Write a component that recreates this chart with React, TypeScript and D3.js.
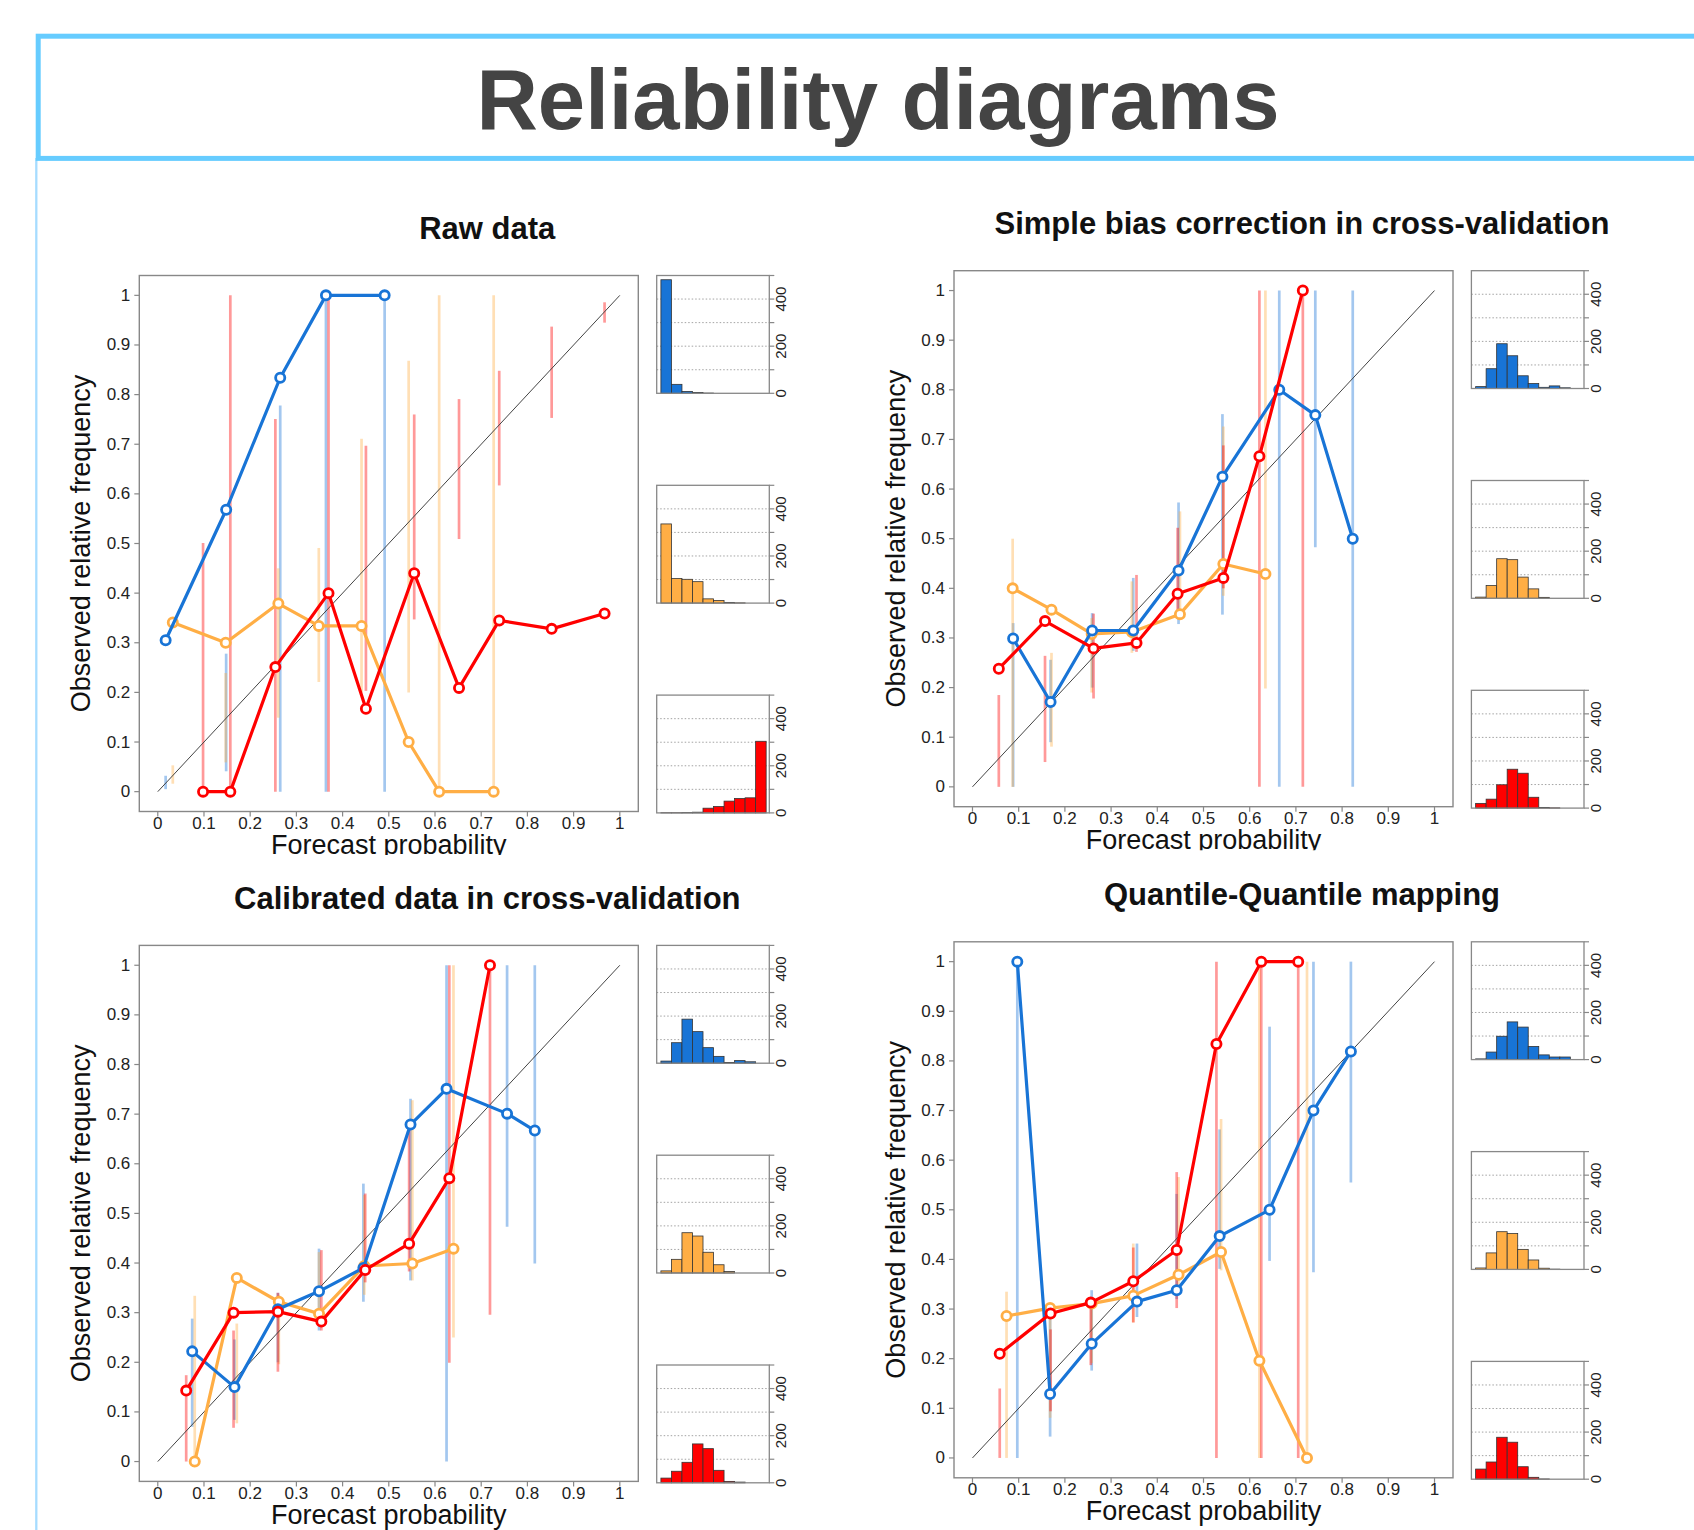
import React from 'react';
import * as d3 from 'd3';

const W = 1694;
const H = 1530;
const FONT = '"Liberation Sans", Arial, Helvetica, sans-serif';

// axis ticks
const probTicks = [0, 0.1, 0.2, 0.3, 0.4, 0.5, 0.6, 0.7, 0.8, 0.9, 1];
const probLabels = ['0', '0.1', '0.2', '0.3', '0.4', '0.5', '0.6', '0.7', '0.8', '0.9', '1'];
const countTicks = [0, 100, 200, 300, 400, 500];
const countLabels = [0, 200, 400];
const countGrid = [100, 200, 300, 400];
const binStarts = [0, 0.1, 0.2, 0.3, 0.4, 0.5, 0.6, 0.7, 0.8, 0.9];

// each point: [forecast prob, observed freq, consistency bar low, high]
const rawBlue = [
  [0.017, 0.305, 0.005, 0.032],
  [0.148, 0.568, 0.041, 0.278],
  [0.265, 0.834, 0.0, 0.778],
  [0.364, 1.0, 0.0, 1.0],
  [0.491, 1.0, 0.0, 1.0],
];
const rawOrange = [
  [0.0325, 0.341, 0.016, 0.053],
  [0.147, 0.3, 0.059, 0.239],
  [0.261, 0.379, 0.149, 0.45],
  [0.3485, 0.334, 0.221, 0.491],
  [0.441, 0.334, 0.2, 0.711],
  [0.543, 0.1, 0.2, 0.868],
  [0.609, 0.0, 0.0, 1.0],
  [0.727, 0.0, 0.0, 1.0],
];
const rawRed = [
  [0.098, 0.0, 0.0, 0.501],
  [0.157, 0.0, 0.0, 1.0],
  [0.2545, 0.251, 0.0, 0.751],
  [0.3695, 0.4, 0.0, 1.0],
  [0.4505, 0.167, 0.203, 0.697],
  [0.555, 0.44, 0.347, 0.76],
  [0.652, 0.209, 0.509, 0.791],
  [0.739, 0.345, 0.617, 0.848],
  [0.8525, 0.328, 0.753, 0.937],
  [0.967, 0.359, 0.945, 0.986],
];
const rawHistBlue = [482, 38, 8, 3, 1, 0, 0, 0, 0, 0];
const rawHistOrange = [336, 104, 101, 91, 18, 11, 3, 1, 0, 0];
const rawHistRed = [1, 1, 2, 3, 20, 27, 50, 61, 64, 304];

const biasBlue = [
  [0.088, 0.299, 0.0, 0.33],
  [0.169, 0.171, 0.09, 0.256],
  [0.259, 0.315, 0.2, 0.35],
  [0.348, 0.315, 0.274, 0.421],
  [0.446, 0.436, 0.328, 0.573],
  [0.541, 0.625, 0.347, 0.751],
  [0.664, 0.8, 0.0, 1.0],
  [0.742, 0.749, 0.483, 1.0],
  [0.823, 0.5, 0.0, 1.0],
];
const biasOrange = [
  [0.087, 0.4, 0.0, 0.5],
  [0.171, 0.357, 0.081, 0.27],
  [0.258, 0.308, 0.19, 0.34],
  [0.345, 0.312, 0.27, 0.414],
  [0.449, 0.348, 0.342, 0.555],
  [0.543, 0.449, 0.385, 0.726],
  [0.634, 0.429, 0.198, 1.0],
];
const biasRed = [
  [0.057, 0.238, 0.0, 0.185],
  [0.157, 0.334, 0.05, 0.264],
  [0.262, 0.279, 0.178, 0.349],
  [0.355, 0.29, 0.272, 0.427],
  [0.444, 0.389, 0.342, 0.522],
  [0.543, 0.421, 0.4, 0.688],
  [0.621, 0.666, 0.0, 1.0],
  [0.715, 1.0, 0.0, 1.0],
];
const biasHistBlue = [8, 84, 190, 139, 54, 21, 5, 11, 3, 0];
const biasHistOrange = [5, 54, 168, 164, 90, 40, 4, 0, 0, 0];
const biasHistRed = [20, 38, 99, 165, 148, 46, 3, 1, 0, 0];

const calBlue = [
  [0.0745, 0.222, 0.07, 0.288],
  [0.166, 0.15, 0.084, 0.246],
  [0.26, 0.307, 0.2, 0.34],
  [0.349, 0.343, 0.264, 0.429],
  [0.445, 0.39, 0.322, 0.56],
  [0.547, 0.679, 0.365, 0.731],
  [0.625, 0.751, 0.0, 1.0],
  [0.756, 0.701, 0.473, 1.0],
  [0.816, 0.667, 0.399, 1.0],
];
const calOrange = [
  [0.08, 0.0, 0.0, 0.334],
  [0.171, 0.37, 0.077, 0.278],
  [0.262, 0.322, 0.196, 0.336],
  [0.349, 0.298, 0.275, 0.422],
  [0.447, 0.394, 0.336, 0.537],
  [0.551, 0.399, 0.365, 0.728],
  [0.64, 0.429, 0.25, 1.0],
];
const calRed = [
  [0.0615, 0.143, 0.0, 0.174],
  [0.164, 0.3, 0.068, 0.264],
  [0.26, 0.302, 0.181, 0.34],
  [0.354, 0.282, 0.264, 0.426],
  [0.449, 0.386, 0.361, 0.54],
  [0.544, 0.439, 0.383, 0.678],
  [0.631, 0.571, 0.199, 1.0],
  [0.719, 1.0, 0.296, 1.0],
];
const calHistBlue = [9, 87, 187, 134, 66, 29, 3, 11, 6, 0];
const calHistOrange = [9, 58, 171, 157, 88, 35, 6, 0, 0, 0];
const calHistRed = [20, 49, 87, 165, 145, 53, 6, 3, 0, 0];

const qqBlue = [
  [0.097, 1.0, 0.0, 1.0],
  [0.168, 0.129, 0.043, 0.3],
  [0.258, 0.23, 0.176, 0.338],
  [0.356, 0.315, 0.284, 0.432],
  [0.442, 0.338, 0.32, 0.532],
  [0.535, 0.447, 0.381, 0.662],
  [0.643, 0.5, 0.397, 0.869],
  [0.738, 0.7, 0.374, 1.0],
  [0.819, 0.819, 0.555, 1.0],
];
const qqOrange = [
  [0.0737, 0.286, 0.0, 0.335],
  [0.168, 0.302, 0.081, 0.291],
  [0.258, 0.311, 0.191, 0.313],
  [0.348, 0.327, 0.273, 0.432],
  [0.446, 0.369, 0.342, 0.566],
  [0.538, 0.415, 0.378, 0.683],
  [0.621, 0.196, 0.0, 1.0],
  [0.724, 0.0, 0.0, 1.0],
];
const qqRed = [
  [0.059, 0.21, 0.0, 0.14],
  [0.169, 0.291, 0.094, 0.259],
  [0.256, 0.313, 0.187, 0.313],
  [0.348, 0.356, 0.273, 0.424],
  [0.442, 0.419, 0.302, 0.576],
  [0.528, 0.834, 0.0, 1.0],
  [0.625, 1.0, 0.0, 1.0],
  [0.705, 1.0, 0.0, 1.0],
];
const qqHistBlue = [3, 32, 99, 160, 138, 56, 20, 11, 11, 0];
const qqHistOrange = [6, 70, 160, 152, 85, 40, 5, 1, 0, 0];
const qqHistRed = [43, 73, 178, 157, 53, 8, 1, 0, 0, 0];

const BLUE = '#1874d6';
const ORANGE = '#ffae45';
const RED = '#ff0000';

const BOX_W = 499;
const BOX_H = 536;
const HIST_GAP = 18.4;
const HIST_W = 112.6;
const HIST_H = 117.8;
const HIST_STEP = 209.8;

const panels = [
  {
    id: 'raw', title: 'Raw data', left: 139.3, top: 275.5, clip: true,
    series: [[ORANGE, rawOrange], [BLUE, rawBlue], [RED, rawRed]],
    hists: [[BLUE, rawHistBlue], [ORANGE, rawHistOrange], [RED, rawHistRed]],
  },
  {
    id: 'bias', title: 'Simple bias correction in cross-validation', left: 954, top: 270.7, clip: true,
    series: [[ORANGE, biasOrange], [BLUE, biasBlue], [RED, biasRed]],
    hists: [[BLUE, biasHistBlue], [ORANGE, biasHistOrange], [RED, biasHistRed]],
  },
  {
    id: 'cal', title: 'Calibrated data in cross-validation', left: 139.3, top: 945.4, clip: false,
    series: [[ORANGE, calOrange], [BLUE, calBlue], [RED, calRed]],
    hists: [[BLUE, calHistBlue], [ORANGE, calHistOrange], [RED, calHistRed]],
  },
  {
    id: 'qq', title: 'Quantile-Quantile mapping', left: 954, top: 941.8, clip: false,
    series: [[ORANGE, qqOrange], [BLUE, qqBlue], [RED, qqRed]],
    hists: [[BLUE, qqHistBlue], [ORANGE, qqHistOrange], [RED, qqHistRed]],
  },
];

function Hist({ left, top, color, counts }: any) {
  const x = d3.scaleLinear().domain([-0.04, 1.03]).range([left, left + HIST_W]);
  const y = d3.scaleLinear().domain([0, 500]).range([top + HIST_H, top]);
  const right = left + HIST_W;
  return (
    <g>
      {countGrid.map(t => (
        <line key={'g' + t} x1={left} x2={right} y1={y(t)} y2={y(t)} stroke="#999" strokeWidth={0.9} strokeDasharray="1.5 2" />
      ))}
      {counts.map((c: number, i: number) => (
        <rect key={i} x={x(binStarts[i])} width={x(binStarts[i] + 0.1) - x(binStarts[i])} y={y(c)} height={y(0) - y(c)}
          fill={color} stroke="#333" strokeWidth={0.8} />
      ))}
      <rect x={left} y={top} width={HIST_W} height={HIST_H} fill="none" stroke="#888" strokeWidth={1.3} />
      {countTicks.map(t => (
        <line key={'t' + t} x1={right} x2={right + 5} y1={y(t)} y2={y(t)} stroke="#888" strokeWidth={1.2} />
      ))}
      {countLabels.map(t => (
        <text key={'l' + t} transform={`translate(${right + 11.5},${y(t)}) rotate(-90)`} textAnchor="middle"
          dominantBaseline="central" fontSize={15} fill="#222">{t}</text>
      ))}
    </g>
  );
}

function Panel({ cfg }: any) {
  const { left, top } = cfg;
  const bottom = top + BOX_H;
  const x = d3.scaleLinear().domain([-0.04, 1.04]).range([left, left + BOX_W]);
  const y = d3.scaleLinear().domain([-0.04, 1.04]).range([bottom, top]);
  const line = d3.line<number[]>().x(d => x(d[0])).y(d => y(d[1]));
  const ciOrder = [cfg.series[1], cfg.series[0], cfg.series[2]];
  const clipId = 'clip-' + cfg.id;
  const histLeft = left + BOX_W + HIST_GAP;
  return (
    <g>
      {cfg.clip && (
        <clipPath id={clipId}>
          <rect x={left - 100} y={top} width={BOX_W + 200} height={BOX_H + 43.5} />
        </clipPath>
      )}
      <text x={left + 348} y={top - 36.5} textAnchor="middle" fontSize={31} fontWeight="bold" fill="#111">{cfg.title}</text>

      {ciOrder.map(([color, pts]: any, si: number) => pts.map((d: number[], i: number) => (
        <line key={si + '-' + i} x1={x(d[0])} x2={x(d[0])} y1={y(d[2])} y2={y(d[3])}
          stroke={color} strokeOpacity={0.4} strokeWidth={2.7} />
      )))}

      <line x1={x(0)} y1={y(0)} x2={x(1)} y2={y(1)} stroke="#444" strokeWidth={1} />

      {cfg.series.map(([color, pts]: any, si: number) => (
        <g key={'s' + si}>
          <path d={line(pts) as string} fill="none" stroke={color} strokeWidth={3.2} strokeLinejoin="round" />
          {pts.map((d: number[], i: number) => (
            <circle key={i} cx={x(d[0])} cy={y(d[1])} r={4.6} fill="#fff" stroke={color} strokeWidth={2.8} />
          ))}
        </g>
      ))}

      <rect x={left} y={top} width={BOX_W} height={BOX_H} fill="none" stroke="#888" strokeWidth={1.4} />

      {probTicks.map((t, i) => (
        <g key={'x' + i}>
          <line x1={x(t)} x2={x(t)} y1={bottom} y2={bottom + 5} stroke="#888" strokeWidth={1.2} />
          <text x={x(t)} y={bottom + 17.5} textAnchor="middle" fontSize={17} fill="#222">{probLabels[i]}</text>
        </g>
      ))}
      {probTicks.map((t, i) => (
        <g key={'y' + i}>
          <line x1={left - 5} x2={left} y1={y(t)} y2={y(t)} stroke="#888" strokeWidth={1.2} />
          <text x={left - 9} y={y(t)} textAnchor="end" dominantBaseline="central" fontSize={17} fill="#222">{probLabels[i]}</text>
        </g>
      ))}

      <text x={left + BOX_W / 2} y={bottom + 42.5} textAnchor="middle" fontSize={27} fill="#111"
        clipPath={cfg.clip ? `url(#${clipId})` : undefined}>Forecast probability</text>
      <text transform={`translate(${left - 58.3},${top + BOX_H / 2}) rotate(-90)`} textAnchor="middle"
        dominantBaseline="central" fontSize={27} fill="#111">Observed relative frequency</text>

      {cfg.hists.map(([color, counts]: any, i: number) => (
        <Hist key={'h' + i} left={histLeft} top={top + i * HIST_STEP} color={color} counts={counts} />
      ))}
    </g>
  );
}

export default function App() {
  return (
    <svg width={W} height={H} viewBox={`0 0 ${W} ${H}`}
      style={{ position: 'absolute', left: 0, top: 0, background: '#fff' }} fontFamily={FONT}>
      <rect x={0} y={0} width={W} height={H} fill="#fff" />
      <line x1={36.3} x2={36.3} y1={158} y2={H} stroke="#a6dcff" strokeWidth={2.3} />
      <rect x={38.2} y={36.2} width={W} height={122.2} fill="none" stroke="#66ccff" strokeWidth={5} />
      <text x={878} y={128.5} textAnchor="middle" fontSize={85} fontWeight="bold" fill="#444">Reliability diagrams</text>
      {panels.map(p => <Panel key={p.id} cfg={p} />)}
    </svg>
  );
}
